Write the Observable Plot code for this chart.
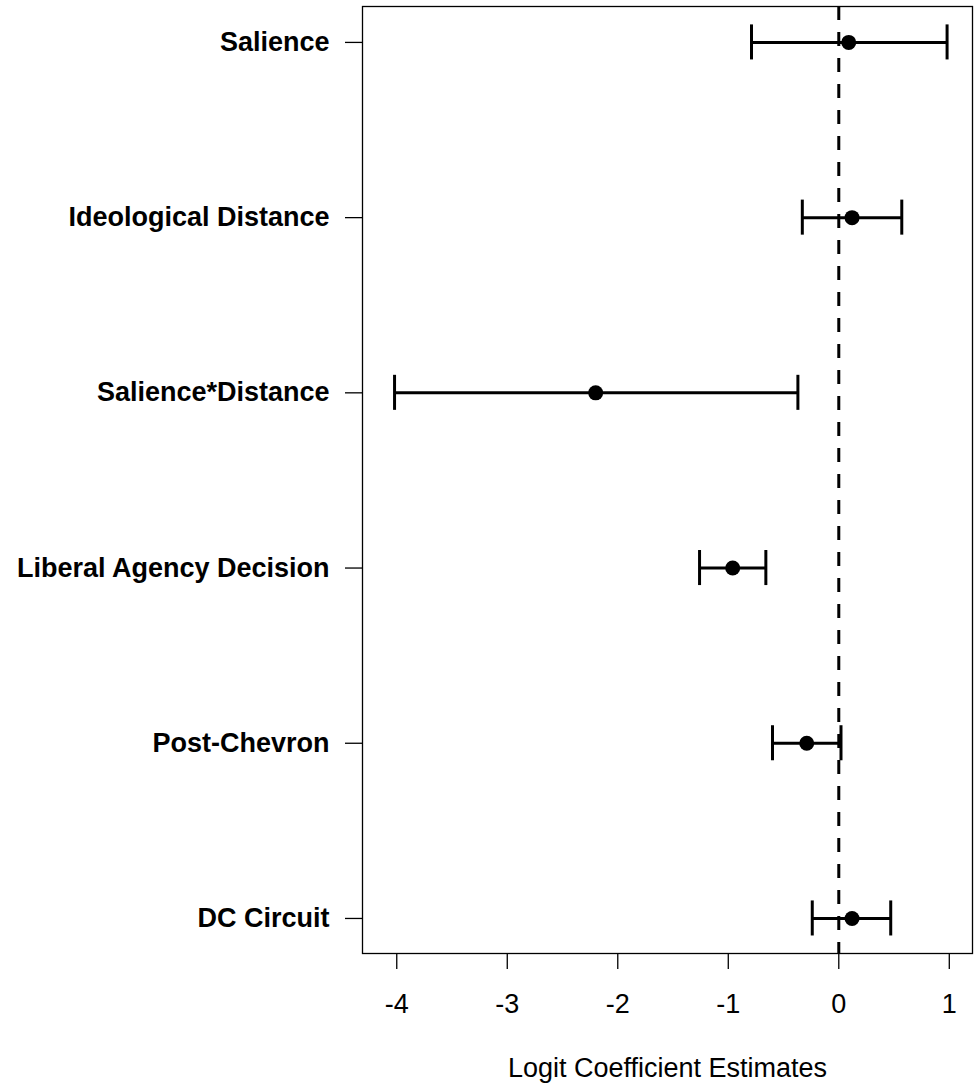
<!DOCTYPE html>
<html>
<head>
<meta charset="utf-8">
<script src="https://cdn.jsdelivr.net/npm/d3@7"></script>
<script src="https://cdn.jsdelivr.net/npm/@observablehq/plot@0.6"></script>
<style>
  html, body { margin: 0; padding: 0; background: #fff; }
  #chart svg { display: block; }
</style>
</head>
<body>
<div id="chart"></div>
<script>
const names = ["Salience", "Ideological Distance", "Salience*Distance", "Liberal Agency Decision", "Post-Chevron", "DC Circuit"];
const est = [0.09, 0.12, -2.20, -0.96, -0.29, 0.12];
const lo = [-0.79, -0.33, -4.02, -1.26, -0.60, -0.24];
const hi = [0.98, 0.57, -0.37, -0.66, 0.02, 0.47];
const xTicks = [-4, -3, -2, -1, 0, 1];
const xTitle = "Logit Coefficient Estimates";

const data = names.map((n, i) => ({name: n, pos: i + 1, est: est[i], lo: lo[i], hi: hi[i]}));
const capHalf = 0.1;
const font = "'Liberation Sans', Arial, Helvetica, sans-serif";

const chart = Plot.plot({
  width: 974,
  height: 1088,
  marginLeft: 362,
  marginRight: 2,
  marginTop: 6,
  marginBottom: 135,
  style: {fontFamily: font, color: "#000", background: "#fff"},
  x: {domain: [-4.31, 1.21]},
  y: {domain: [6.2, 0.795]},
  marks: [
    Plot.ruleX([0], {stroke: "#000", strokeWidth: 3, strokeDasharray: "14,12"}),
    Plot.ruleY(data, {y: "pos", x1: "lo", x2: "hi", stroke: "#000", strokeWidth: 3}),
    Plot.ruleX(data, {x: "lo", y1: d => d.pos - capHalf, y2: d => d.pos + capHalf, stroke: "#000", strokeWidth: 3}),
    Plot.ruleX(data, {x: "hi", y1: d => d.pos - capHalf, y2: d => d.pos + capHalf, stroke: "#000", strokeWidth: 3}),
    Plot.dot(data, {x: "est", y: "pos", r: 7.5, fill: "#000", stroke: "none"}),
    Plot.frame({stroke: "#000", strokeWidth: 1.3}),
    Plot.axisY({ticks: data.map(d => d.pos), tickFormat: i => names[i - 1], tickSize: 17, tickPadding: 16,
      fontSize: 27, fontWeight: "bold", stroke: "#000", strokeWidth: 1.3, fill: "#000", label: null}),
    Plot.axisX({ticks: xTicks, tickFormat: d => String(d), tickSize: 16, tickPadding: 24,
      fontSize: 27, stroke: "#000", strokeWidth: 1.3, fill: "#000", label: null}),
    Plot.text([xTitle], {frameAnchor: "bottom", dy: 123, text: d => d, fontSize: 27, fill: "#000", lineAnchor: "bottom"})
  ]
});
document.getElementById("chart").appendChild(chart);
</script>
</body>
</html>
